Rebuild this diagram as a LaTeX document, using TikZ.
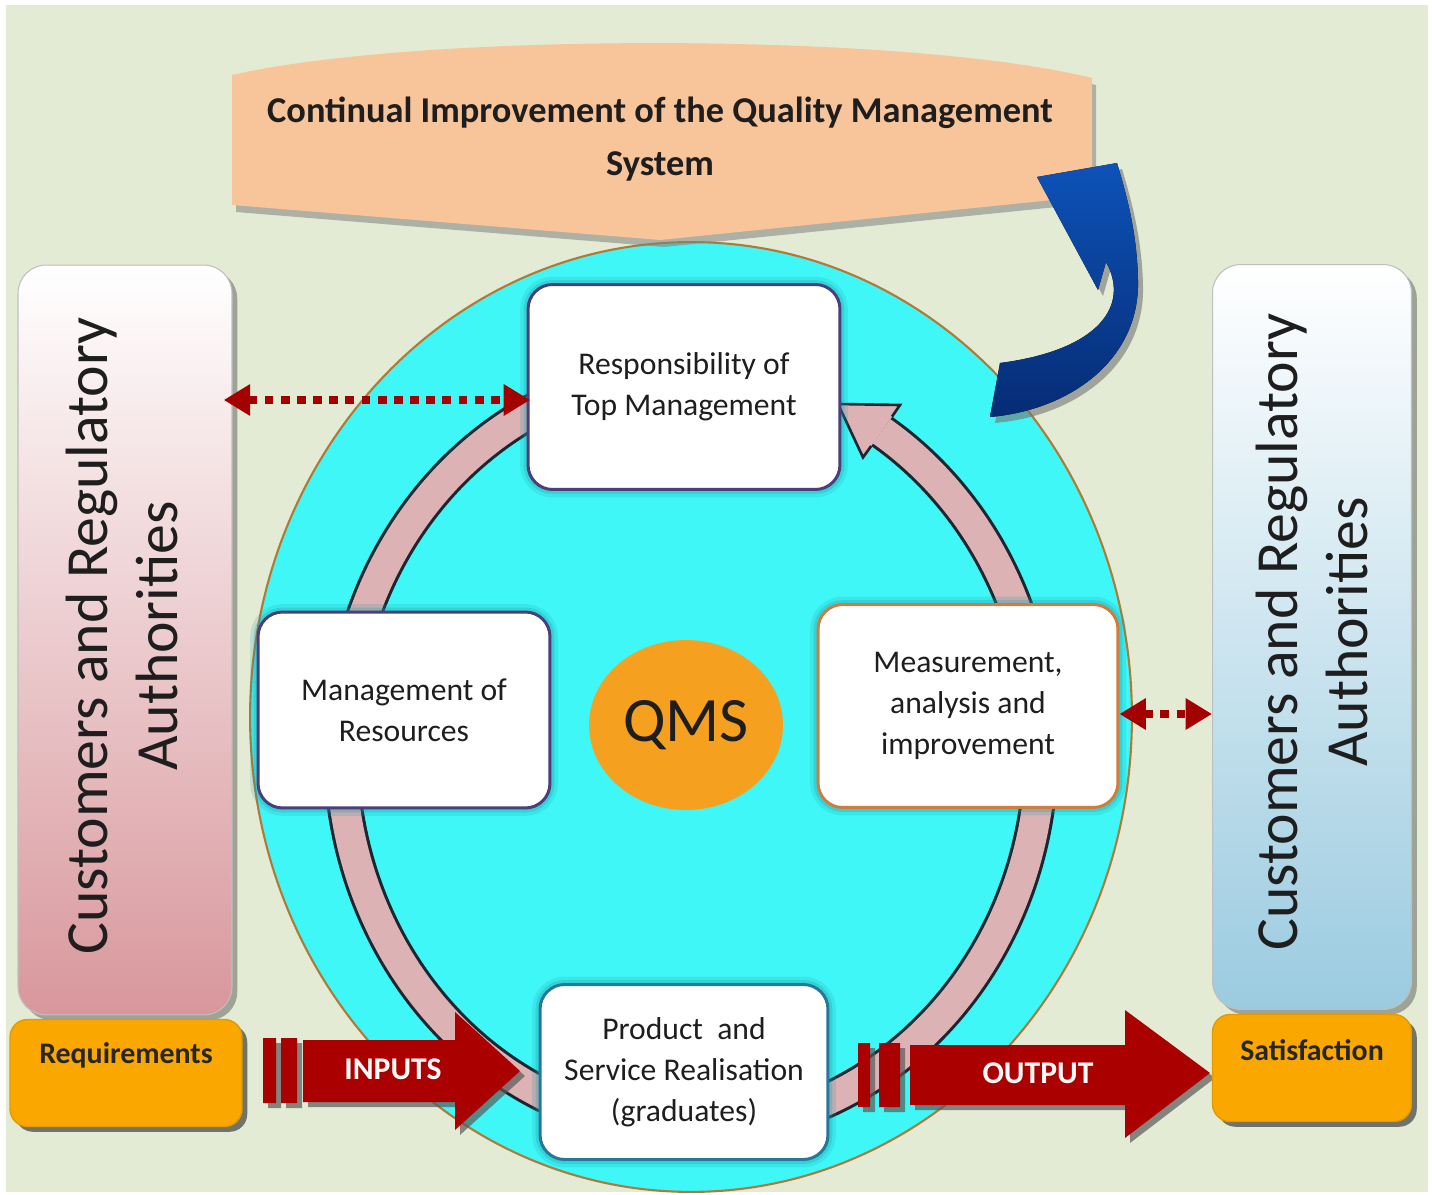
\documentclass[tikz,border=0pt]{standalone}
\usepackage{fontspec}
\setmainfont{Carlito}
\usetikzlibrary{arrows.meta,shadows,shapes.geometric}

\definecolor{bgc}{HTML}{E3EBD4}
\definecolor{cyanfill}{HTML}{40F7F7}
\definecolor{circedge}{HTML}{B07A36}
\definecolor{ringpink}{HTML}{DDB2B5}
\definecolor{ringedge}{HTML}{1A2630}
\definecolor{boxpurple}{HTML}{4A3E7C}
\definecolor{boxorange}{HTML}{CF7D3E}
\definecolor{boxteal}{HTML}{24799A}
\definecolor{glowc}{HTML}{1E9AA8}
\definecolor{txtc}{HTML}{1E1E1E}
\definecolor{qmsc}{HTML}{F5A01E}
\definecolor{bannerc}{HTML}{F8C49A}
\definecolor{blueA}{HTML}{0D52B8}
\definecolor{blueB}{HTML}{062C74}
\definecolor{dotred}{HTML}{A30000}
\definecolor{arrred}{HTML}{AA0000}
\definecolor{orangebox}{HTML}{FAA800}
\definecolor{orangeedge}{HTML}{E39A00}
\definecolor{lcolbot}{HTML}{D8979C}
\definecolor{rcolbot}{HTML}{9BCBE0}

\tikzset{
 colbox/.style={rounded corners=16pt, inner sep=0pt, draw=black!25, line width=0.6pt,
   drop shadow={shadow xshift=3pt, shadow yshift=-3pt, opacity=0.45, fill=black!70}},
 coltext/.style={rotate=90, align=center, text=txtc, font=\fontsize{34}{40}\selectfont},
 wbox/.style={rounded corners=14pt, fill=white, line width=1.7pt, inner sep=0pt, align=center,
   text=txtc, font=\fontsize{18}{23.3}\selectfont,
   preaction={draw=glowc, line width=9pt, opacity=0.18},
   preaction={draw=glowc, line width=5pt, opacity=0.25}},
 obox/.style={rounded corners=10pt, fill=orangebox, draw=orangeedge, line width=0.8pt, inner sep=0pt,
   drop shadow={shadow xshift=3pt, shadow yshift=-3pt, opacity=0.7, fill=black!75}},
 otext/.style={font=\bfseries\fontsize{17}{20}\selectfont, text=black!85},
 arrtext/.style={font=\bfseries\fontsize{18}{20}\selectfont, text=white!92!pink},
 dotarrow/.style={draw=dotred, line width=5pt, dash pattern=on 5pt off 4.2pt,
   {Triangle[length=15pt,width=17pt]}-{Triangle[length=15pt,width=17pt]}},
 ringline/.style={line cap=butt},
}

\begin{document}
\begin{tikzpicture}[x=0.02cm,y=-0.02cm]
\useasboundingbox (0,0) rectangle (1432,1195);
\fill[white] (0,0) rectangle (1432,1195);
\fill[bgc] (6,5) rectangle (1428,1192);

% side columns
\node[colbox, top color=white, bottom color=lcolbot, minimum width=4.28cm, minimum height=15cm] (lcol) at (125,640) {};
\node[coltext] (lcoltext) at (122,636) {Customers and Regulatory\\Authorities};
\node[colbox, top color=white, bottom color=rcolbot, minimum width=3.98cm, minimum height=14.9cm] (rcol) at (1312,637) {};
\node[coltext] (rcoltext) at (1312,632) {Customers and Regulatory\\Authorities};

% big disc
\node[ellipse, fill=cyanfill, draw=circedge, line width=1.2pt, minimum width=17.64cm, minimum height=19cm, inner sep=0pt] (disc) at (691,717) {};

% ring of arrows
\draw[ringline, ringedge, line width=20.5pt] plot[domain=-245:57, samples=160, smooth, variable=\t] ({691+350*cos(\t)},{750-380*sin(\t)});
\draw[ringline, ringpink, line width=17pt] plot[domain=-246:57, samples=160, smooth, variable=\t] ({691+350*cos(\t)},{750-380*sin(\t)});
\fill[ringpink] (892,416.6) -- (900,405) -- (838,404) -- (863,457.4) -- (871.2,446) -- cycle;
\draw[ringedge, line width=1.5pt, line join=miter] (892,416.6) -- (900,405) -- (838,404) -- (863,457.4) -- (871.2,446);

% process boxes
\node[wbox, draw=boxpurple, minimum width=6.24cm, minimum height=4.1cm] (rtm) at (684,387) {Responsibility of\\Top Management};
\node[wbox, draw=boxpurple, minimum width=5.84cm, minimum height=3.92cm] (mor) at (404,710) {Management of\\Resources};
\node[wbox, draw=boxorange, minimum width=6cm, minimum height=4.06cm] (mai) at (968,706) {Measurement,\\analysis and\\improvement};
\node[wbox, draw=boxteal, minimum width=5.76cm, minimum height=3.5cm] (psr) at (684,1072) {Product~~and\\Service Realisation\\(graduates)};

% QMS
\node[ellipse, fill=qmsc, minimum width=3.88cm, minimum height=3.4cm, inner sep=0pt, text=txtc, font=\fontsize{36}{40}\selectfont] (qms) at (686,725) {QMS};

% banner
\fill[black!50, opacity=0.55, shift={(4,7)}] (232,75) .. controls (420,32) and (905,32) .. (1092,78) -- (1092,196) -- (660,240) -- (232,205) -- cycle;
\fill[bannerc] (232,75) .. controls (420,32) and (905,32) .. (1092,78) -- (1092,196) -- (660,240) -- (232,205) -- cycle;
\node[font=\bfseries\fontsize{20.7}{30}\selectfont, align=center, text=txtc] (banner) at (660,139) {Continual Improvement of the Quality Management\\System};

% blue curved arrow
\fill[black!55, opacity=0.6, shift={(5,6)}] (990,417) .. controls (1070,410) and (1140,360) .. (1138,280) .. controls (1137,230) and (1125,190) .. (1117,163) -- (1037,177) -- (1098,290) -- (1106,262) .. controls (1130,305) and (1100,350) .. (1000,363) -- cycle;
\fill[top color=blueA, bottom color=blueB] (990,417) .. controls (1070,410) and (1140,360) .. (1138,280) .. controls (1137,230) and (1125,190) .. (1117,163) -- (1037,177) -- (1098,290) -- (1106,262) .. controls (1130,305) and (1100,350) .. (1000,363) -- cycle;

% dotted double arrows
\draw[dotarrow] ([xshift=-5pt]lcol.east |- 0,400) -- ([xshift=2pt]rtm.west |- 0,400);
\draw[dotarrow] (mai.east |- 0,714) -- (rcol.west |- 0,714);

% INPUTS arrow
\begin{scope}[shift={(5,5)}]
\fill[black!65, opacity=0.7] (263,1038) rectangle (276,1103) (281,1038) rectangle (297,1103)
  (303,1040) -- (455,1040) -- (455,1012) -- (520,1071) -- (455,1130) -- (455,1102) -- (303,1102) -- cycle;
\end{scope}
\fill[arrred] (263,1038) rectangle (276,1103) (281,1038) rectangle (297,1103)
  (303,1040) -- (455,1040) -- (455,1012) -- (520,1071) -- (455,1130) -- (455,1102) -- (303,1102) -- cycle;
\node[arrtext] (inputs) at (393,1069) {INPUTS};

% OUTPUT arrow
\begin{scope}[shift={(5,5)}]
\fill[black!65, opacity=0.7] (858,1043) rectangle (870,1107) (879,1043) rectangle (900,1107)
  (910,1045) -- (1125,1045) -- (1125,1010) -- (1210,1073) -- (1125,1138) -- (1125,1105) -- (910,1105) -- cycle;
\end{scope}
\fill[arrred] (858,1043) rectangle (870,1107) (879,1043) rectangle (900,1107)
  (910,1045) -- (1125,1045) -- (1125,1010) -- (1210,1073) -- (1125,1138) -- (1125,1105) -- (910,1105) -- cycle;
\node[arrtext] (output) at (1038,1073) {OUTPUT};

% requirement / satisfaction boxes
\node[obox, minimum width=4.64cm, minimum height=2.14cm] (req) at (126,1073) {};
\node[otext] (reqtext) at (126,1055) {Requirements};
\node[obox, minimum width=3.98cm, minimum height=2.14cm] (sat) at (1312,1068) {};
\node[otext] (sattext) at (1312,1050) {Satisfaction};
\end{tikzpicture}
\end{document}
